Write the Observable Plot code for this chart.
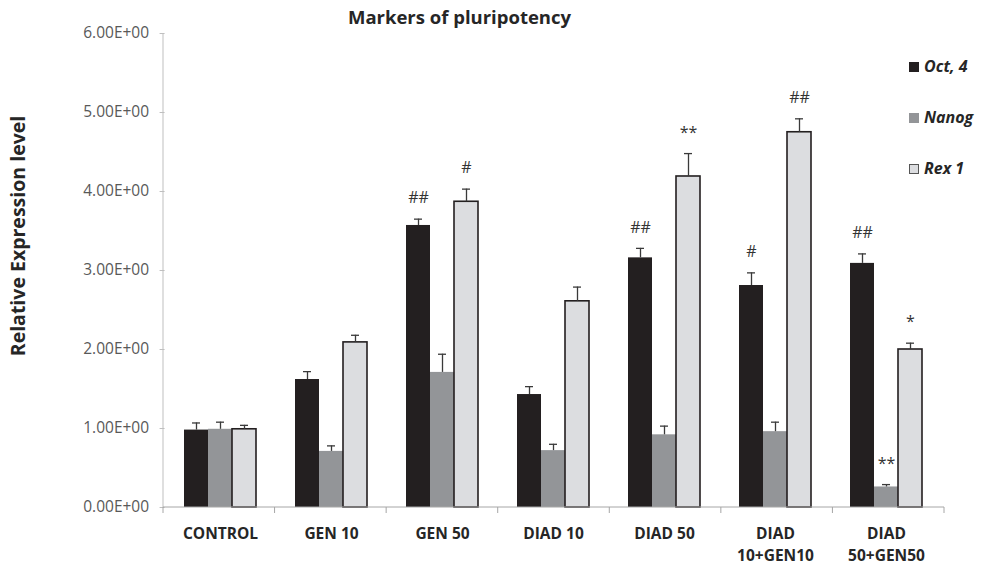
<!DOCTYPE html>
<html>
<head>
<meta charset="utf-8">
<script src="https://cdn.jsdelivr.net/npm/d3@7"></script>
<script src="https://cdn.jsdelivr.net/npm/@observablehq/plot@0.6"></script>
<style>
  html, body { margin: 0; padding: 0; background: #fff; }
  #wrap { position: relative; width: 981px; height: 565px; font-family: "Open Sans", sans-serif; color: #262626; }
  #title { position: absolute; left: 0; width: 919px; top: 7px; line-height: 19px; text-align: center; font-weight: bold; font-size: 18.5px; }
  #ylabel { position: absolute; left: 18px; top: 236px; line-height: 20px; transform: translate(-50%, -50%) rotate(-90deg); white-space: nowrap; font-weight: bold; font-size: 19.5px; }
  #legend { position: absolute; left: 909px; top: 55px; }
  .li { position: absolute; left: 0; white-space: nowrap; font-weight: bold; font-style: italic; font-size: 16px; line-height: 22px; }
  .sw { display: inline-block; width: 10px; height: 10px; margin-right: 5px; vertical-align: 0px; box-sizing: border-box; }
</style>
</head>
<body>
<div id="wrap">
  <div id="chart"></div>
  <div id="title">Markers of pluripotency</div>
  <div id="ylabel">Relative Expression level</div>
  <div id="legend"></div>
</div>
<script>
// ---- data ----
const categories = ["CONTROL", "GEN 10", "GEN 50", "DIAD 10", "DIAD 50", "DIAD\n10+GEN10", "DIAD\n50+GEN50"];
const seriesNames = ["Oct, 4", "Nanog", "Rex 1"];
const seriesColors = ["#231f20", "#939598", "#dcdde0"];

const oct4     = [0.98, 1.62, 3.57, 1.43, 3.16, 2.81, 3.09];
const oct4Err  = [0.09, 0.10, 0.08, 0.10, 0.12, 0.16, 0.12];
const nanog    = [0.99, 0.71, 1.71, 0.72, 0.92, 0.96, 0.26];
const nanogErr = [0.09, 0.07, 0.23, 0.08, 0.11, 0.12, 0.03];
const rex1     = [0.99, 2.09, 3.87, 2.61, 4.19, 4.75, 2.00];
const rex1Err  = [0.05, 0.09, 0.16, 0.18, 0.29, 0.17, 0.08];

const oct4Notes  = ["", "", "##", "", "##", "#", "##"];
const nanogNotes = ["", "", "", "", "", "", "**"];
const rex1Notes  = ["", "", "#", "", "**", "##", "*"];

const yTicks = [0, 1, 2, 3, 4, 5, 6];

// ---- build table ----
const seriesVals = [oct4, nanog, rex1];
const seriesErrs = [oct4Err, nanogErr, rex1Err];
const seriesNotes = [oct4Notes, nanogNotes, rex1Notes];
const data = [];
categories.forEach((c, i) => {
  seriesNames.forEach((s, j) => {
    const v = seriesVals[j][i], e = seriesErrs[j][i];
    data.push({category: c, series: s, value: v, top: v + e, note: seriesNotes[j][i]});
  });
});

function sci(d) {
  const [m, e] = d.toExponential(2).split("e");
  const n = +e;
  return m + "E" + (n < 0 ? "-" : "+") + String(Math.abs(n)).padStart(2, "0");
}

const W = 981, H = 565, ML = 163, MR = 37, MT = 33, MB = 58;
const padOuter = 0.165, padInner = 0.33;
const step = (W - ML - MR) / categories.length;
const facetOffset = padOuter * step; // left facet starts this far right of the frame

const plot = Plot.plot({
  width: W,
  height: H,
  marginLeft: ML,
  marginRight: MR,
  marginTop: MT,
  marginBottom: MB,
  style: {fontFamily: "'Open Sans', sans-serif", background: "white", overflow: "visible"},
  fx: {domain: categories, paddingInner: padInner, paddingOuter: padOuter, label: null},
  x: {domain: seriesNames, padding: 0, axis: null},
  y: {domain: [0, 6]},
  color: {domain: seriesNames, range: seriesColors},
  marks: [
    Plot.axisY({ticks: yTicks, tickFormat: sci, tickSize: 5, tickPadding: 11, dx: -facetOffset, fontSize: 15.5, fill: "#595959", stroke: "#bfbfbf", label: null}),
    Plot.axisFx({anchor: "bottom", tickSize: 0, tickPadding: 16, fontSize: 15.5, fontWeight: "bold", fill: "#262626", label: null, lineAnchor: "top", lineHeight: 1.4}),
    Plot.barY(data, {fx: "category", x: "series", y: "value", fill: "series"}),
    Plot.barY(data.filter(d => d.series === "Rex 1"), {fx: "category", x: "series", y: "value", fill: "none", stroke: "#231f20", strokeWidth: 1.6}),
    Plot.ruleX(data, {fx: "category", x: "series", y1: "value", y2: "top", stroke: "#3a3a3a", strokeWidth: 1.3}),
    Plot.tickY(data, {fx: "category", x: "series", y: "top", insetLeft: 8, insetRight: 8, stroke: "#3a3a3a", strokeWidth: 1.3}),
    Plot.text(data.filter(d => d.note), {fx: "category", x: "series", y: "top", text: "note", dy: -21, fontSize: 16, fill: "#333"})
  ]
});

document.getElementById("chart").appendChild(plot);

// axis lines and category separators from the plot's own scales
const fxS = plot.scale("fx");
const yS = plot.scale("y");
const yLin = d3.scaleLinear(yS.domain, yS.range);
const [fx0, fx1] = fxS.range;
const sep = d3.scaleBand(categories, fxS.range).padding(0);
const g = d3.select(plot).append("g").attr("stroke", "#a6a6a6").attr("stroke-width", 1);
g.append("line").attr("x1", fx0).attr("x2", fx0).attr("y1", yLin(6)).attr("y2", yLin(0)).attr("stroke", "#bfbfbf");
g.append("line").attr("x1", fx0).attr("x2", fx1).attr("y1", yLin(0)).attr("y2", yLin(0));
const bounds = categories.map(c => sep(c)).concat([fx1]);
bounds.forEach(b => {
  g.append("line").attr("x1", b).attr("x2", b).attr("y1", yLin(0)).attr("y2", yLin(0) + 6);
});

// legend
const legend = document.getElementById("legend");
seriesNames.forEach((s, j) => {
  const item = document.createElement("div");
  item.className = "li";
  item.style.top = (j * 51) + "px";
  const sw = document.createElement("span");
  sw.className = "sw";
  sw.style.background = seriesColors[j];
  if (j === 2) sw.style.border = "1px solid #555";
  item.appendChild(sw);
  item.appendChild(document.createTextNode(s));
  legend.appendChild(item);
});
</script>
</body>
</html>
